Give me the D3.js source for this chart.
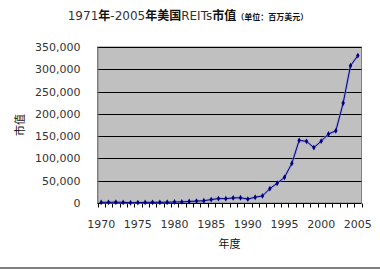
<!DOCTYPE html>
<html lang="zh">
<head>
<meta charset="UTF-8">
<title>美国REITs市值</title>
<script src="https://d3js.org/d3.v7.min.js"></script>
<style>
body { margin: 0; background: #fff; }
.axis text { font-family: "DejaVu Sans", sans-serif; font-size: 11px; fill: #333; }
.cn { font-family: "Noto Sans CJK SC", sans-serif; fill: #111; }
</style>
</head>
<body>
<script>
// 年份与市值（百万美元）
var years = d3.range(1970, 2006);
var values = [1494, 1494, 1881, 1394, 712, 900, 1308, 1528, 1412, 1754,
              2299, 2439, 3299, 4257, 5085, 7674, 9924, 9702, 11435, 11662,
              8737, 12968, 15912, 32159, 44306, 57541, 88776, 140534, 138301, 124262,
              138715, 154899, 161937, 224212, 307895, 330691];
var yTicks = [0, 50000, 100000, 150000, 200000, 250000, 300000, 350000];
var xLabels = [1970, 1975, 1980, 1985, 1990, 1995, 2000, 2005];

var width = 380, height = 270;
var plot = {left: 97.5, right: 361.5, top: 47, bottom: 203};

var svg = d3.select("body").append("svg")
    .attr("width", width)
    .attr("height", height);

var x = d3.scaleBand().domain(years).range([plot.left, plot.right]);
var y = d3.scaleLinear().domain([0, 350000]).range([plot.bottom, plot.top]);

// 绘图区背景
svg.append("rect")
    .attr("x", plot.left).attr("y", plot.top)
    .attr("width", plot.right - plot.left)
    .attr("height", plot.bottom - plot.top)
    .attr("fill", "#c0c0c0")
    .attr("stroke", "#808080");

// 网格线
svg.append("g").selectAll("line")
    .data(yTicks.slice(1)).enter()
    .append("line")
    .attr("x1", plot.left).attr("x2", plot.right)
    .attr("y1", function(d) { return Math.round(y(d)) + 0.5; })
    .attr("y2", function(d) { return Math.round(y(d)) + 0.5; })
    .attr("stroke", "#000");

// y轴
var yAxis = d3.axisLeft(y).tickValues(yTicks).tickSize(0).tickPadding(17)
    .tickFormat(d3.format(","));
var gy = svg.append("g").attr("class", "axis")
    .attr("transform", "translate(" + plot.left + ",0)")
    .call(yAxis);
gy.select(".domain").attr("stroke", "#808080");

// x轴：每个年份边界一个刻度
var gx = svg.append("g").attr("class", "axis")
    .attr("transform", "translate(0," + (plot.bottom + 0.5) + ")");
gx.append("line")
    .attr("x1", plot.left).attr("x2", plot.right)
    .attr("stroke", "#000");
gx.selectAll(".tk")
    .data(years.concat([2006])).enter()
    .append("line")
    .attr("x1", function(d) { return Math.round(d < 2006 ? x(d) : plot.right) + 0.5; })
    .attr("x2", function(d) { return Math.round(d < 2006 ? x(d) : plot.right) + 0.5; })
    .attr("y1", 0).attr("y2", 4)
    .attr("stroke", "#000");
gx.selectAll(".lb")
    .data(xLabels).enter()
    .append("text")
    .attr("x", function(d) { return x(d) + x.bandwidth() / 2; })
    .attr("y", 24.5)
    .attr("text-anchor", "middle")
    .text(function(d) { return d; });

// 折线
var line = d3.line()
    .x(function(d, i) { return x(years[i]) + x.bandwidth() / 2; })
    .y(function(d) { return y(d); });

svg.append("path")
    .datum(values)
    .attr("d", line)
    .attr("fill", "none")
    .attr("stroke", "#9090d8")
    .attr("stroke-width", 2.6)
    .attr("opacity", 0.6);

svg.append("path")
    .datum(values)
    .attr("d", line)
    .attr("fill", "none")
    .attr("stroke", "#000080")
    .attr("stroke-width", 1);

svg.append("g").selectAll("path")
    .data(values).enter()
    .append("path")
    .attr("d", d3.symbol().type(d3.symbolDiamond).size(10))
    .attr("transform", function(d, i) {
        return "translate(" + (x(years[i]) + x.bandwidth() / 2) + "," + y(d) + ")";
    })
    .attr("fill", "#000080");

// 标题：数字细体，汉字粗体
var title = svg.append("text")
    .attr("class", "cn")
    .attr("x", 188).attr("y", 20)
    .attr("text-anchor", "middle")
    .attr("font-size", "12px");
[["1971", false], ["年", true], ["-2005", false], ["年美国", true],
 ["REITs", false], ["市值", true]].forEach(function(p) {
    title.append("tspan")
        .attr("font-family", p[1] ? null : "DejaVu Sans, sans-serif")
        .attr("font-weight", p[1] ? "bold" : "normal")
        .attr("fill", p[1] ? "#111" : "#333")
        .text(p[0]);
});
title.append("tspan").attr("font-size", "8px").attr("font-weight", "bold").text("（单位：百万美元）");

// 轴标题
svg.append("text")
    .attr("class", "cn")
    .attr("x", plot.left + (plot.right - plot.left) / 2)
    .attr("y", 248)
    .attr("text-anchor", "middle")
    .attr("font-size", "11px")
    .text("年度");

svg.append("text")
    .attr("class", "cn")
    .attr("transform", "translate(24,125) rotate(-90)")
    .attr("text-anchor", "middle")
    .attr("font-size", "11px")
    .text("市值");

// 底部边线
svg.append("rect")
    .attr("x", 0).attr("y", 267)
    .attr("width", width).attr("height", 2)
    .attr("fill", "#808080");
</script>
</body>
</html>
